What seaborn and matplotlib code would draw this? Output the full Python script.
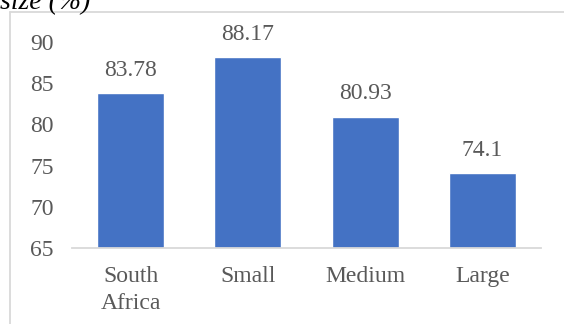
import matplotlib
matplotlib.use("Agg")
import matplotlib.pyplot as plt
import seaborn as sns
import pandas as pd
from matplotlib.lines import Line2D

categories = ["South\nAfrica", "Small", "Medium", "Large"]
values = [83.78, 88.17, 80.93, 74.1]
value_labels = ["83.78", "88.17", "80.93", "74.1"]
yticks = [65, 70, 75, 80, 85, 90]

sns.set_theme(style="white")
plt.rcParams["font.family"] = ["Liberation Serif", "DejaVu Serif"]

df = pd.DataFrame({"group": categories, "value": values})

fig = plt.figure(figsize=(5.64, 3.24), dpi=100)
ax = fig.add_axes([0.1277, 0.2346, 0.9592 - 0.1277, 0.8704 - 0.2346])

bar_color = "#4472C4"
sns.barplot(data=df, x="group", y="value", color=bar_color, width=0.57,
            saturation=1, ax=ax)

ax.set_ylim(65, 90)
ax.set_xlim(-0.5, 3.5)
ax.set_yticks(yticks)
ax.set_xlabel("")
ax.set_ylabel("")

text_color = "#595959"
fs = 17
ax.tick_params(axis="y", length=0, pad=13, labelsize=fs, labelcolor=text_color)
ax.tick_params(axis="x", length=0, pad=13, labelsize=fs, labelcolor=text_color)
for lab in ax.get_xticklabels():
    lab.set_linespacing(1.35)

for s in ["top", "right", "left"]:
    ax.spines[s].set_visible(False)
ax.spines["bottom"].set_color("#d9d9d9")
ax.spines["bottom"].set_linewidth(1.3)

for patch, lbl in zip(ax.patches, value_labels):
    x = patch.get_x() + patch.get_width() / 2
    y = patch.get_height()
    ax.annotate(lbl, (x, y), xytext=(0, 9), textcoords="offset points",
                ha="center", va="bottom", fontsize=fs, color=text_color)

# outer frame lines (left and top)
fig.add_artist(Line2D([10 / 564, 10 / 564], [0, 1 - 12 / 324],
                      transform=fig.transFigure, color="#d9d9d9", lw=1.3))
fig.add_artist(Line2D([10 / 564, 1], [1 - 12 / 324, 1 - 12 / 324],
                      transform=fig.transFigure, color="#d9d9d9", lw=1.3))

fig.text(0.0, 1 - 9 / 324, "size (%)", fontsize=20, style="italic",
         color="black", ha="left", va="baseline")

fig.savefig("out.png", dpi=100)
